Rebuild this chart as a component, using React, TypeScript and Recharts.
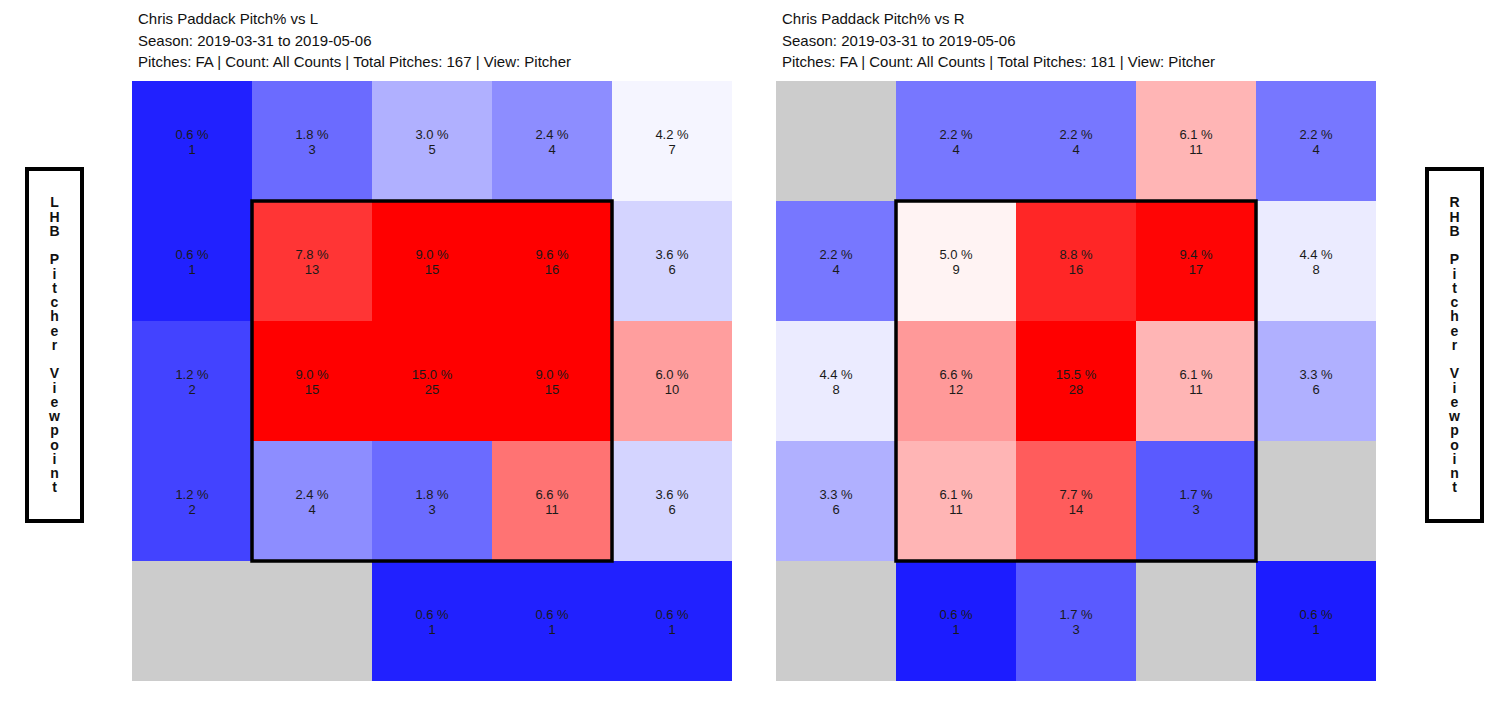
import React from 'react';
import { ScatterChart, Scatter, XAxis, YAxis, ReferenceArea } from 'recharts';

// zone grid: rows top -> bottom, cols left -> right (pitcher view)
const ROWS = [0, 1, 2, 3, 4];
const COLS = [0, 1, 2, 3, 4];

// vs LHB
const PCT_L: (number | null)[][] = [
  [0.6, 1.8, 3.0, 2.4, 4.2],
  [0.6, 7.8, 9.0, 9.6, 3.6],
  [1.2, 9.0, 15.0, 9.0, 6.0],
  [1.2, 2.4, 1.8, 6.6, 3.6],
  [null, null, 0.6, 0.6, 0.6],
];
const COUNT_L: (number | null)[][] = [
  [1, 3, 5, 4, 7],
  [1, 13, 15, 16, 6],
  [2, 15, 25, 15, 10],
  [2, 4, 3, 11, 6],
  [null, null, 1, 1, 1],
];

// vs RHB
const PCT_R: (number | null)[][] = [
  [null, 2.2, 2.2, 6.1, 2.2],
  [2.2, 5.0, 8.8, 9.4, 4.4],
  [4.4, 6.6, 15.5, 6.1, 3.3],
  [3.3, 6.1, 7.7, 1.7, null],
  [null, 0.6, 1.7, null, 0.6],
];
const COUNT_R: (number | null)[][] = [
  [null, 4, 4, 11, 4],
  [4, 9, 16, 17, 8],
  [8, 12, 28, 11, 6],
  [6, 11, 14, 3, null],
  [null, 1, 3, null, 1],
];

// fill colours (styles, kept apart from data)
const FILL_L = [
  ['#2121ff', '#6b6bff', '#b0b0ff', '#8d8dff', '#f5f5ff'],
  ['#2121ff', '#ff3535', '#ff0000', '#ff0000', '#d4d4ff'],
  ['#4343ff', '#ff0000', '#ff0000', '#ff0000', '#ff9e9e'],
  ['#4343ff', '#8d8dff', '#6b6bff', '#ff7373', '#d4d4ff'],
  ['#cccccc', '#cccccc', '#2121ff', '#2121ff', '#2121ff'],
];
const FILL_R = [
  ['#cccccc', '#7777ff', '#7777ff', '#ffb5b5', '#7777ff'],
  ['#7777ff', '#fff3f3', '#ff2626', '#ff0505', '#ebebff'],
  ['#ebebff', '#ff9999', '#ff0000', '#ffb5b5', '#b0b0ff'],
  ['#b0b0ff', '#ffb5b5', '#ff5c5c', '#5a5aff', '#cccccc'],
  ['#cccccc', '#1c1cff', '#5a5aff', '#cccccc', '#1c1cff'],
];

const FONT = '"Liberation Sans", Arial, Helvetica, sans-serif';
const GRID = 600;

interface Cell {
  x: number;
  y: number;
  row: number;
  col: number;
  pct: number | null;
  count: number | null;
}

function buildCells(pct: (number | null)[][], count: (number | null)[][]): Cell[] {
  return ROWS.flatMap((r) =>
    COLS.map((c) => ({ x: c + 0.5, y: r + 0.5, row: r, col: c, pct: pct[r][c], count: count[r][c] }))
  );
}

const CellLabel = (props: any) => {
  const { cx, cy, payload } = props;
  if (cx == null || payload?.pct == null) return null;
  return (
    <g>
      <text x={cx} y={cy - 7} textAnchor="middle" dominantBaseline="central" fontSize={13} fontFamily={FONT} fill="#1a1a1a">
        {payload.pct.toFixed(1)} %
      </text>
      <text x={cx} y={cy + 8} textAnchor="middle" dominantBaseline="central" fontSize={13} fontFamily={FONT} fill="#1a1a1a">
        {payload.count}
      </text>
    </g>
  );
};

function ZoneHeatmap({ cells, fills }: { cells: Cell[]; fills: string[][] }) {
  const filled = cells.filter((c) => c.pct != null);
  return (
    <ScatterChart width={GRID} height={GRID} margin={{ top: 0, right: 0, bottom: 0, left: 0 }}>
      <XAxis type="number" dataKey="x" domain={[0, 5]} hide allowDataOverflow />
      <YAxis type="number" dataKey="y" domain={[0, 5]} reversed hide allowDataOverflow />
      {cells.map((c) => (
        <ReferenceArea
          key={`cell-${c.row}-${c.col}`}
          x1={c.col}
          x2={c.col + 1}
          y1={c.row}
          y2={c.row + 1}
          fill={fills[c.row][c.col]}
          fillOpacity={1}
          stroke="none"
          ifOverflow="visible"
        />
      ))}
      {/* strike zone */}
      <ReferenceArea x1={1} x2={4} y1={1} y2={4} fill="none" stroke="#000" strokeWidth={3.5} ifOverflow="visible" />
      <Scatter data={filled} shape={CellLabel} isAnimationActive={false} />
    </ScatterChart>
  );
}

function Title({ lines, left }: { lines: string[]; left: number }) {
  return (
    <div style={{ position: 'absolute', left, top: 8, fontFamily: FONT, fontSize: 15, lineHeight: '21.5px', color: '#111' }}>
      {lines.map((l) => (
        <div key={l}>{l}</div>
      ))}
    </div>
  );
}

function SideLabel({ text, left }: { text: string; left: number }) {
  return (
    <div
      style={{
        position: 'absolute',
        left,
        top: 167,
        width: 51,
        height: 348,
        border: '4px solid #000',
        display: 'flex',
        flexDirection: 'column',
        justifyContent: 'center',
        alignItems: 'center',
        fontFamily: FONT,
        fontWeight: 'bold',
        fontSize: 14,
        color: '#111',
      }}
    >
      {text.split('').map((ch, i) => (
        <div key={i} style={{ height: 14.25, lineHeight: '14.25px' }}>
          {ch === ' ' ? '\u00a0' : ch}
        </div>
      ))}
    </div>
  );
}

export default function App() {
  const cellsL = buildCells(PCT_L, COUNT_L);
  const cellsR = buildCells(PCT_R, COUNT_R);
  return (
    <div style={{ position: 'absolute', left: 0, top: 0, width: 1512, height: 705, background: '#fff', overflow: 'hidden' }}>
      <Title
        left={138}
        lines={[
          'Chris Paddack Pitch% vs L',
          'Season: 2019-03-31 to 2019-05-06',
          'Pitches: FA | Count: All Counts | Total Pitches: 167 | View: Pitcher',
        ]}
      />
      <Title
        left={782}
        lines={[
          'Chris Paddack Pitch% vs R',
          'Season: 2019-03-31 to 2019-05-06',
          'Pitches: FA | Count: All Counts | Total Pitches: 181 | View: Pitcher',
        ]}
      />
      <SideLabel text="LHB Pitcher Viewpoint" left={25} />
      <SideLabel text="RHB Pitcher Viewpoint" left={1425} />
      <div style={{ position: 'absolute', left: 132, top: 81 }}>
        <ZoneHeatmap cells={cellsL} fills={FILL_L} />
      </div>
      <div style={{ position: 'absolute', left: 776, top: 81 }}>
        <ZoneHeatmap cells={cellsR} fills={FILL_R} />
      </div>
    </div>
  );
}
